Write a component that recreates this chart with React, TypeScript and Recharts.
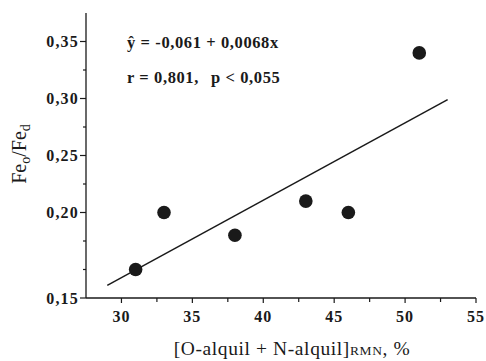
import React from "react";
import { ScatterChart, Scatter, XAxis, YAxis } from "recharts";

// measured points
const xValues = [31, 33, 38, 43, 46, 51];
const yValues = [0.15, 0.2, 0.18, 0.21, 0.2, 0.34];

// regression line end points
const fitX = [29, 53];
const fitY = [0.136, 0.299];

const xTicks = [30, 32.5, 35, 37.5, 40, 42.5, 45, 47.5, 50, 52.5, 55];
const xTickLabels = ["30", "", "35", "", "40", "", "45", "", "50", "", "55"];
const yTicks = [0.125, 0.15, 0.175, 0.2, 0.225, 0.25, 0.275, 0.3, 0.325, 0.35];
const yTickLabels = ["0,15", "", "", "0,20", "", "0,25", "", "0,30", "", "0,35"];

const equation = "ŷ = -0,061 + 0,0068x";
const statR = "r = 0,801,";
const statP = "p < 0,055";

const points = xValues.map((x, i) => ({ x, y: yValues[i] }));
const fitLine = fitX.map((x, i) => ({ x, y: fitY[i] }));

const FONT = "'Liberation Serif', 'Times New Roman', serif";
const INK = "#1a1a1a";

const XTick = (props: any) => {
  const { x, y, payload } = props;
  const label = xTickLabels[xTicks.indexOf(payload.value)];
  const major = label !== "";
  return (
    <g>
      <line x1={x} x2={x} y1={y} y2={y + (major ? 5 : 4)} stroke={INK} strokeWidth={1.2} />
      {major && (
        <text x={x} y={y + 24} textAnchor="middle" fontSize={16} fontWeight="bold" fontFamily={FONT} letterSpacing={1} fill={INK}>
          {label}
        </text>
      )}
    </g>
  );
};

const YTick = (props: any) => {
  const { x, y, payload } = props;
  const label = yTickLabels[yTicks.indexOf(payload.value)];
  const major = label !== "";
  return (
    <g>
      <line x1={x} x2={x - (major ? 6 : 3)} y1={y} y2={y} stroke={INK} strokeWidth={1.2} />
      {major && (
        <text x={x - 7} y={y + 5.5} textAnchor="end" fontSize={16} fontWeight="bold" fontFamily={FONT} letterSpacing={1.2} fill={INK}>
          {label}
        </text>
      )}
    </g>
  );
};

const Dot = (p: any) => <circle cx={p.cx} cy={p.cy} r={6.8} fill={INK} />;

export default function App() {
  return (
    <div style={{ position: "absolute", left: 0, top: 0, background: "#fff" }}>
      <ScatterChart width={486} height={361} margin={{ top: 13, right: 10, bottom: 0, left: 0 }}>
        <XAxis
          dataKey="x"
          type="number"
          domain={[27.5, 55]}
          ticks={xTicks}
          interval={0}
          allowDataOverflow
          height={63}
          tickSize={0}
          tickMargin={0}
          tickLine={false}
          axisLine={{ stroke: INK, strokeWidth: 1.3 }}
          tick={<XTick />}
        />
        <YAxis
          dataKey="y"
          type="number"
          domain={[0.125, 0.375]}
          ticks={yTicks}
          interval={0}
          allowDataOverflow
          width={86}
          tickSize={0}
          tickMargin={0}
          tickLine={false}
          axisLine={{ stroke: INK, strokeWidth: 1.3 }}
          tick={<YTick />}
        />
        <Scatter
          data={fitLine}
          line={{ stroke: INK, strokeWidth: 1.5 }}
          shape={() => <g />}
          isAnimationActive={false}
        />
        <Scatter data={points} shape={Dot} isAnimationActive={false} />
        <text x={127} y={48} fontSize={16.5} fontWeight="bold" fontFamily={FONT} letterSpacing={0.6} fill={INK}>
          {equation}
        </text>
        <text x={127} y={83} fontSize={16.5} fontWeight="bold" fontFamily={FONT} letterSpacing={0.6} fill={INK}>
          {statR}
        </text>
        <text x={211} y={83} fontSize={16.5} fontWeight="bold" fontFamily={FONT} letterSpacing={0.6} fill={INK}>
          {statP}
        </text>
        <text transform="translate(26,154) rotate(-90)" textAnchor="middle" fontSize={20} fontFamily={FONT} fill={INK}>
          Fe<tspan fontSize={14} dy={4}>o</tspan>
          <tspan fontSize={20} dy={-4}>/Fe</tspan>
          <tspan fontSize={14} dy={4}>d</tspan>
        </text>
        <text x={292} y={355} textAnchor="middle" fontSize={19.5} fontFamily={FONT} letterSpacing={0.6} fill={INK}>
          [O-alquil + N-alquil]<tspan fontSize={13.5}>RMN</tspan>, %
        </text>
      </ScatterChart>
    </div>
  );
}
